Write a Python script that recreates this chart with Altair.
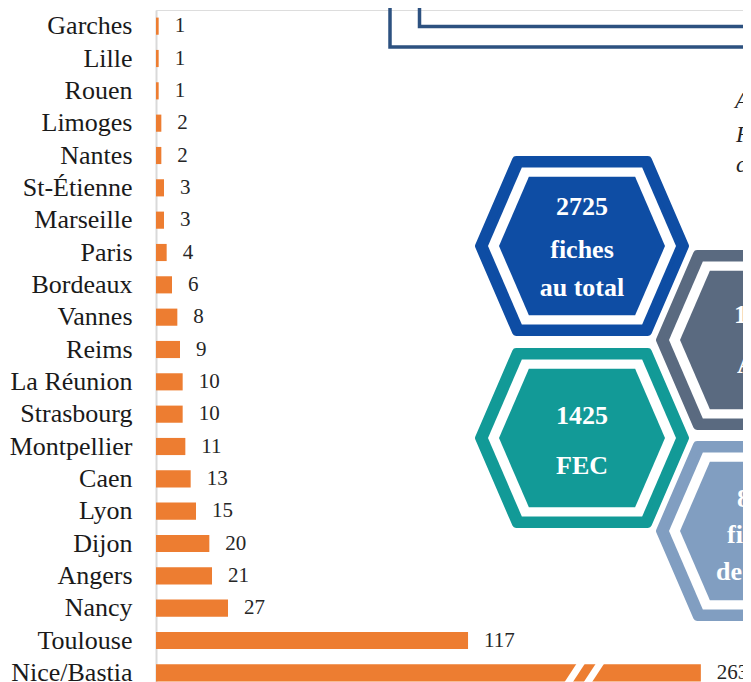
import altair as alt
import pandas as pd

# ---- bar chart data ----
cities = ["Garches", "Lille", "Rouen", "Limoges", "Nantes", "St-Étienne", "Marseille",
          "Paris", "Bordeaux", "Vannes", "Reims", "La Réunion", "Strasbourg",
          "Montpellier", "Caen", "Lyon", "Dijon", "Angers", "Nancy", "Toulouse",
          "Nice/Bastia"]
counts = [1, 1, 1, 2, 2, 3, 3, 4, 6, 8, 9, 10, 10, 11, 13, 15, 20, 21, 27, 117, 263]

AXIS_MAX = 220.1    # x-domain of the bars
BREAK_CAP = 204.3   # broken bar is drawn up to this value
BREAK_AT = [157.0, 164.2]  # centres of the two white break strokes (data units)
BREAK_SLANT = 2.7

# ---- decorative page elements (page pixel coordinates) ----
hex_cx = [582, 582, 763, 763]
hex_cy = [246, 438, 340, 531]
hex_col = ["#0E4DA4", "#129A97", "#5A6A80", "#819EC1"]

hex_text = ["2725", "fiches", "au total", "1425", "FEC", "13", "A", "8", "fic", "de"]
hex_tx = [582, 582, 582, 582, 582, 734, 737, 737, 727, 716]
hex_ty = [215, 258, 296, 424, 474, 323, 373, 507, 543, 580]
hex_align = ["center"] * 5 + ["left"] * 5

side_text = ["A", "F", "cl"]
side_tx = [735, 736, 736]
side_ty = [108, 142, 172]

box_x = [390, 419.5]
box_y2 = [47, 26.5]

df = pd.DataFrame({"city": cities, "count": counts,
                   "shown": [min(c, BREAK_CAP) for c in counts]})
df_break = pd.DataFrame({
    "city": ["Nice/Bastia"] * 2,
    "xt": [b + BREAK_SLANT for b in BREAK_AT],
    "xb": [b - BREAK_SLANT for b in BREAK_AT],
})

W, H = 587, 679
SERIF = "Liberation Serif"

xs = alt.Scale(domain=[0, AXIS_MAX])
ys = alt.Scale(domain=cities, paddingInner=0.47, paddingOuter=0.235)

bars = alt.Chart(df).mark_bar(color="#ED7D31").encode(
    x=alt.X("shown:Q", scale=xs, axis=None),
    y=alt.Y("city:N", sort=cities, scale=ys,
            axis=alt.Axis(title=None, ticks=False, grid=False,
                          domainColor="#d9d9d9", domainWidth=2,
                          labelFont=SERIF, labelFontSize=26,
                          labelColor="#1a1a1a", labelPadding=24)),
)
labels = alt.Chart(df).mark_text(align="left", baseline="middle", dx=16,
                                 font=SERIF, fontSize=21, color="#262626").encode(
    x=alt.X("shown:Q", scale=xs, axis=None),
    y=alt.Y("city:N", sort=cities, scale=ys, axis=None),
    text="count:Q",
)
breaks = alt.Chart(df_break).mark_rule(color="white", strokeWidth=7,
                                       yOffset=-11, y2Offset=11).encode(
    x=alt.X("xt:Q", scale=xs, axis=None),
    x2="xb:Q",
    y=alt.Y("city:N", sort=cities, scale=ys, axis=None),
    y2="city:N",
)

# auxiliary coordinate system: page pixels
axs = alt.Scale(domain=[156, 156 + W])
ays = alt.Scale(domain=[10, 10 + H], reverse=True)

HEX = "M-1,0L-0.64,-0.835L0.64,-0.835L1,0L0.64,0.835L-0.64,0.835Z"
df_hex = pd.DataFrame({"cx": hex_cx, "cy": hex_cy, "col": hex_col})


def hex_layer(width, white=False, rounded=0):
    enc = dict(
        x=alt.X("cx:Q", scale=axs, axis=None),
        y=alt.Y("cy:Q", scale=ays, axis=None),
    )
    if white:
        enc["fill"] = alt.value("white")
    else:
        enc["fill"] = alt.Fill("col:N", scale=None)
        if rounded:
            enc["stroke"] = alt.Stroke("col:N", scale=None)
    return alt.Chart(df_hex).mark_point(
        shape=HEX, filled=True, opacity=1, fillOpacity=1, strokeOpacity=1,
        size=width * width, strokeWidth=rounded, strokeJoin="round").encode(**enc)


hex_outer = hex_layer(206, rounded=8)
hex_ring = hex_layer(188, white=True)
hex_inner = hex_layer(166)

df_ht = pd.DataFrame({"t": hex_text, "x": hex_tx, "y": hex_ty, "a": hex_align})
ht_center = alt.Chart(df_ht[df_ht.a == "center"]).mark_text(
    align="center", baseline="alphabetic", font=SERIF, fontSize=26,
    fontWeight="bold", color="white").encode(
    x=alt.X("x:Q", scale=axs, axis=None),
    y=alt.Y("y:Q", scale=ays, axis=None), text="t:N")
ht_left = alt.Chart(df_ht[df_ht.a == "left"]).mark_text(
    align="left", baseline="alphabetic", font=SERIF, fontSize=26,
    fontWeight="bold", color="white").encode(
    x=alt.X("x:Q", scale=axs, axis=None),
    y=alt.Y("y:Q", scale=ays, axis=None), text="t:N")

df_side = pd.DataFrame({"t": side_text, "x": side_tx, "y": side_ty})
side = alt.Chart(df_side).mark_text(
    align="left", baseline="alphabetic", font=SERIF, fontSize=23,
    fontStyle="italic", color="#222222").encode(
    x=alt.X("x:Q", scale=axs, axis=None),
    y=alt.Y("y:Q", scale=ays, axis=None), text="t:N")

df_box = pd.DataFrame({"x": box_x, "x2": [800, 800], "y": [-20, -20], "y2": box_y2})
box = alt.Chart(df_box).mark_rect(filled=False, stroke="#2D5180", strokeWidth=3.5).encode(
    x=alt.X("x:Q", scale=axs, axis=None), x2="x2:Q",
    y=alt.Y("y:Q", scale=ays, axis=None), y2="y2:Q")

chart = alt.layer(
    box, hex_outer, hex_ring, hex_inner, ht_center, ht_left, side,
    bars, labels, breaks,
).resolve_scale(x="independent", y="independent").properties(
    width=W, height=H,
    autosize=alt.AutoSizeParams(type="none"),
    padding={"left": 148, "top": 2, "right": 0, "bottom": 0},
).configure_view(stroke=None).configure_axis(
    labelFont=SERIF, labelFontSize=26, labelColor="#1a1a1a"
).configure(background="white")

chart.save("out.html", embed_options={"renderer": "svg", "actions": False})
